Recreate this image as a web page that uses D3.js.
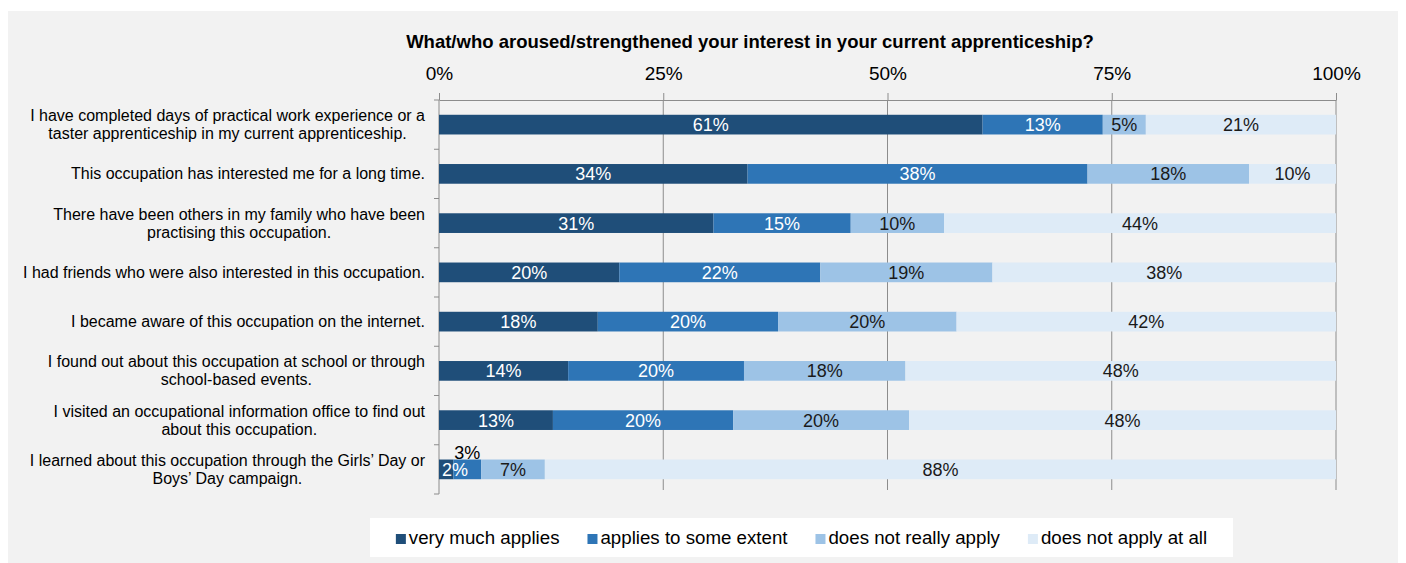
<!DOCTYPE html>
<html>
<head>
<meta charset="utf-8">
<script src="https://cdn.jsdelivr.net/npm/d3@7"></script>
<style>
  body { margin: 0; background: #fff; }
  svg { display: block; font-family: "Liberation Sans", Arial, sans-serif; }
</style>
</head>
<body>
<div id="chart"></div>
<script>
// data
const title = "What/who aroused/strengthened your interest in your current apprenticeship?";

const categories = [
  "I have completed days of practical work experience or a\ntaster apprenticeship in my current apprenticeship.",
  "This occupation has interested me for a long time.",
  "There have been others in my family who have been\npractising this occupation.",
  "I had friends who were also interested in this occupation.",
  "I became aware of this occupation on the internet.",
  "I found out about this occupation at school or through\nschool-based events.",
  "I visited an occupational information office to find out\nabout this occupation.",
  "I learned about this occupation through the Girls\u2019 Day or\nBoys\u2019 Day campaign."
];

const seriesNames = ["very much applies", "applies to some extent", "does not really apply", "does not apply at all"];

// percent values per series (one per category)
const veryMuch   = [60.6, 34.4, 30.6, 20.1, 17.7, 14.4, 12.7, 1.6];
const someExtent = [13.4, 37.9, 15.3, 22.4, 20.1, 19.6, 20.1, 3.1];
const notReally  = [4.8, 18.0, 10.4, 19.2, 19.9, 18.0, 19.6, 7.1];
const notAtAll   = [21.2, 9.7, 43.7, 38.3, 42.3, 48.0, 47.6, 88.2];

const tickValues = [0, 25, 50, 75, 100];

const colors = ["#1f4e79", "#2e75b6", "#9dc3e6", "#deebf7"];
const labelColors = ["#ffffff", "#ffffff", "#1a1a1a", "#1a1a1a"];

//size
const width = 1406;
const height = 563;
const plot = { left: 439, right: 1336, top: 100, bottom: 494 };

const svg = d3.select("#chart").append("svg")
  .attr("width", width)
  .attr("height", height);

// panel
svg.append("rect")
  .attr("x", 8).attr("y", 11)
  .attr("width", 1390).attr("height", 552)
  .attr("fill", "#f2f2f2");

//scale
const x = d3.scaleLinear().domain([0, 100]).range([plot.left, plot.right]);
const y = d3.scaleBand()
  .domain(d3.range(categories.length))
  .range([plot.top, plot.bottom])
  .paddingInner(0.6)
  .paddingOuter(0.3);

const color = d3.scaleOrdinal().domain(seriesNames).range(colors);

const table = categories.map((c, i) => ({
  cat: i,
  [seriesNames[0]]: veryMuch[i],
  [seriesNames[1]]: someExtent[i],
  [seriesNames[2]]: notReally[i],
  [seriesNames[3]]: notAtAll[i]
}));
const stacked = d3.stack().keys(seriesNames)(table);

// title
svg.append("text")
  .attr("x", 750).attr("y", 48)
  .attr("text-anchor", "middle")
  .attr("font-size", 18.5)
  .attr("font-weight", "bold")
  .attr("fill", "#000")
  .text(title);

// gridlines
svg.append("g")
  .selectAll("line")
  .data(tickValues.slice(1))
  .join("line")
  .attr("x1", d => x(d)).attr("x2", d => x(d))
  .attr("y1", plot.top).attr("y2", plot.bottom - 4)
  .attr("stroke", "#8c8c8c")
  .attr("stroke-width", 1);

// top axis
const axis = svg.append("g")
  .attr("transform", `translate(0,${plot.top})`)
  .call(d3.axisTop(x).tickValues(tickValues).tickFormat(d => d + "%").tickSize(7).tickPadding(13).tickSizeOuter(0));
axis.select(".domain").attr("stroke", "#8c8c8c");
axis.selectAll(".tick line").attr("stroke", "#8c8c8c");
axis.selectAll(".tick text")
  .attr("font-size", 19)
  .attr("font-family", "\"Liberation Sans\", Arial, sans-serif")
  .attr("fill", "#000");

// left axis
const stepBounds = d3.range(categories.length + 1).map(i => plot.top + i * y.step());
svg.append("line")
  .attr("x1", plot.left).attr("x2", plot.left)
  .attr("y1", plot.top).attr("y2", plot.bottom)
  .attr("stroke", "#8c8c8c");
svg.append("g")
  .selectAll("line")
  .data(stepBounds)
  .join("line")
  .attr("x1", plot.left - 5).attr("x2", plot.left)
  .attr("y1", d => d).attr("y2", d => d)
  .attr("stroke", "#8c8c8c");

// category labels
const catG = svg.append("g")
  .selectAll("g")
  .data(categories)
  .join("g");
catG.each(function (d, i) {
  const lines = d.split("\n");
  const g = d3.select(this);
  const texts = g.selectAll("text")
    .data(lines)
    .join("text")
    .attr("font-size", 16)
    .attr("fill", "#000")
    .attr("text-anchor", "middle")
    .attr("dy", "0.35em")
    .text(l => l);
  const maxW = d3.max(texts.nodes(), n => n.getComputedTextLength());
  const cy = y(i) + y.bandwidth() / 2;
  texts
    .attr("x", 425 - maxW / 2)
    .attr("y", (l, j) => cy + (j - (lines.length - 1) / 2) * 18);
});

// bars
svg.append("g")
  .selectAll("g")
  .data(stacked)
  .join("g")
  .attr("fill", d => color(d.key))
  .selectAll("rect")
  .data(d => d)
  .join("rect")
  .attr("x", d => x(d[0]))
  .attr("width", d => x(d[1]) - x(d[0]))
  .attr("y", (d, i) => y(i))
  .attr("height", y.bandwidth());

// bar labels (drawn after all bars)
const labelAbove = [[7, 1]]; // [category, series] moved above the bar
svg.append("g")
  .selectAll("g")
  .data(stacked)
  .join("g")
  .each(function (s, si) {
    d3.select(this).selectAll("text")
      .data(s)
      .join("text")
      .attr("font-size", 18)
      .attr("fill", labelColors[si])
      .attr("text-anchor", "middle")
      .text(d => Math.round(d[1] - d[0]) + "%")
      .each(function (d, i) {
        const t = d3.select(this);
        const w = this.getComputedTextLength();
        let cx = x((d[0] + d[1]) / 2);
        if (cx - w / 2 < plot.left + 3) cx = plot.left + 3 + w / 2;
        const above = labelAbove.some(p => p[0] === i && p[1] === si);
        if (above) {
          t.attr("fill", "#000").attr("x", cx).attr("y", y(i) - 1);
        } else {
          t.attr("x", cx).attr("y", y(i) + y.bandwidth() / 2).attr("dy", "0.36em");
        }
      });
  });

// legend
const legendBox = { x: 370, y: 518, w: 863, h: 39 };
svg.append("rect")
  .attr("x", legendBox.x).attr("y", legendBox.y)
  .attr("width", legendBox.w).attr("height", legendBox.h)
  .attr("fill", "#fff");

const legend = svg.append("g");
const item = legend.selectAll("g")
  .data(seriesNames)
  .join("g");
item.append("rect")
  .attr("width", 10).attr("height", 10)
  .attr("y", -10)
  .attr("fill", d => color(d));
item.append("text")
  .attr("x", 13)
  .attr("font-size", 18.7)
  .attr("fill", "#000")
  .text(d => d);

const itemW = item.nodes().map(n => 13 + d3.select(n).select("text").node().getComputedTextLength());
const gap = 28;
const total = d3.sum(itemW) + gap * (itemW.length - 1);
let cursor = legendBox.x + legendBox.w / 2 - total / 2;
item.attr("transform", (d, i) => {
  const tx = cursor;
  cursor += itemW[i] + gap;
  return `translate(${tx},${legendBox.y + 26})`;
});
</script>
</body>
</html>
